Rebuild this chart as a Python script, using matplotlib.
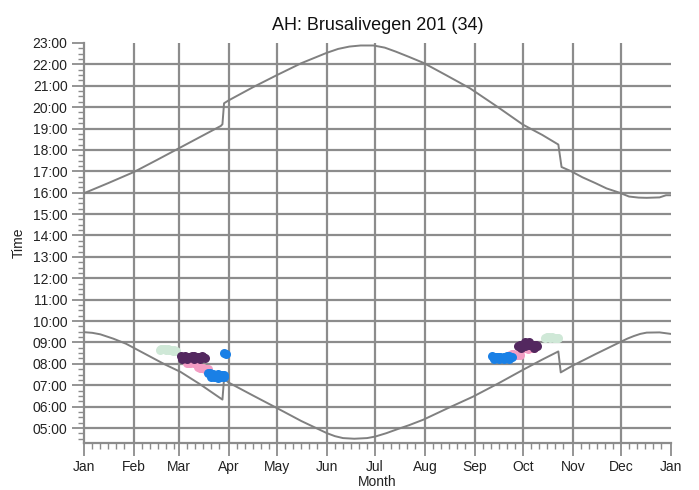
"""Plot sunrise/sunset times with observation times for one site."""

import matplotlib
matplotlib.use('Agg')  # Non-interactive backend
import matplotlib.pyplot as plt
from matplotlib.ticker import FixedLocator, FuncFormatter, MultipleLocator

plt.rcParams['font.family'] = ['Liberation Sans', 'DejaVu Sans']

TITLE = "AH: Brusalivegen 201 (34)"

MONTH_STARTS = [0, 31, 59, 90, 120, 151, 181, 212, 243, 273, 304, 334, 365]
MONTH_LABELS = ["Jan", "Feb", "Mar", "Apr", "May", "Jun", "Jul",
                "Aug", "Sep", "Oct", "Nov", "Dec", "Jan"]

# Sunset (day of year, hour)
sunset_days = [0, 15, 31, 45, 59, 72, 85, 86, 87, 90, 105, 120, 135, 151, 158,
               165, 172, 180, 187, 194, 202, 211, 225, 240, 257, 273, 285, 295,
               297, 303, 310, 318, 325, 333, 339, 345, 350, 358, 362, 365]
sunset_hours = [15.98, 16.45, 16.97, 17.52, 18.08, 18.60, 19.12, 19.20, 20.18,
                20.32, 20.93, 21.50, 22.05, 22.54, 22.72, 22.83, 22.88, 22.88,
                22.78, 22.59, 22.35, 22.07, 21.50, 20.88, 20.02, 19.18, 18.70,
                18.25, 17.20, 17.00, 16.72, 16.45, 16.20, 16.00, 15.82, 15.77,
                15.76, 15.78, 15.88, 15.88]

# Sunrise (day of year, hour)
sunrise_days = [0, 5, 10, 18, 26, 39, 50, 60, 72, 85, 86, 87, 90, 105, 120, 135,
                151, 156, 161, 168, 176, 181, 188, 195, 202, 211, 226, 242, 258,
                273, 285, 295, 296.5, 303, 318, 333, 338, 342, 346, 350, 358,
                362, 365]
sunrise_hours = [9.48, 9.45, 9.38, 9.18, 8.94, 8.42, 7.98, 7.62, 7.05, 6.38,
                 6.33, 7.30, 7.12, 6.52, 5.93, 5.33, 4.76, 4.62, 4.53, 4.50,
                 4.53, 4.60, 4.76, 4.95, 5.13, 5.39, 5.92, 6.47, 7.10, 7.72,
                 8.20, 8.58, 7.60, 7.88, 8.45, 9.00, 9.18, 9.30, 9.40, 9.46,
                 9.47, 9.43, 9.40]

# Observations, grouped by category
green_days = [47, 48, 49, 50, 51, 52, 53, 54, 55, 56, 57,
              287, 288, 289, 290, 291, 292, 293, 294, 295]
green_hours = [8.64, 8.68, 8.70, 8.68, 8.66, 8.68, 8.64, 8.66, 8.62, 8.64, 8.62,
               9.20, 9.24, 9.26, 9.22, 9.24, 9.20, 9.23, 9.22, 9.20]

purple_days = [60, 61, 62, 63, 64, 65, 66, 67, 68, 69, 70, 71, 72, 73, 74, 75,
               61, 64, 68, 72,
               270, 271, 272, 273, 274, 275, 276, 277, 278, 279, 280, 281, 282,
               274, 277, 272, 280]
purple_hours = [8.36, 8.34, 8.33, 8.35, 8.32, 8.30, 8.33, 8.35, 8.36, 8.32,
                8.30, 8.34, 8.33, 8.36, 8.30, 8.28,
                8.22, 8.22, 8.22, 8.22,
                8.85, 8.88, 8.90, 8.86, 8.84, 8.88, 8.86, 8.90, 8.86, 8.84,
                8.88, 8.86, 8.84, 9.00, 9.00, 8.76, 8.76]

pink_days = [64, 65, 66, 67, 68, 69, 70, 71, 72, 73, 74, 75, 76, 77,
             265, 266, 267, 268, 269, 270, 271, 272, 274, 276, 278, 280]
pink_hours = [8.06, 8.04, 8.05, 8.07, 8.04, 8.06, 8.03, 7.84, 7.82, 7.80, 7.80,
              7.78, 7.76, 7.74,
              8.42, 8.44, 8.45, 8.42, 8.40, 8.44, 8.42, 8.70, 8.72, 8.70, 8.72,
              8.72]

blue_days = [77, 78, 79, 80, 81, 82, 83, 84, 85, 86, 87, 79, 81, 83, 85, 87,
             87, 88,
             254, 255, 256, 257, 258, 259, 260, 261, 262, 263, 264, 265, 266,
             255, 258, 261, 264]
blue_hours = [7.58, 7.55, 7.50, 7.52, 7.46, 7.48, 7.52, 7.50, 7.45, 7.48, 7.50,
              7.38, 7.40, 7.36, 7.38, 7.40,
              8.50, 8.46,
              8.36, 8.33, 8.30, 8.34, 8.33, 8.30, 8.28, 8.32, 8.32, 8.36, 8.36,
              8.33, 8.30, 8.22, 8.24, 8.22, 8.24]

GRID = '#8c8c8c'
CURVE = '#808080'


def minor_day_ticks():
    """Small ticks on day 6, 11, 16, 21 and 26 of every month."""
    ticks = []
    for start, end in zip(MONTH_STARTS[:-1], MONTH_STARTS[1:]):
        ticks += [start + d for d in (5, 10, 15, 20, 25) if start + d < end]
    return ticks


def main():
    fig = plt.figure(figsize=(6.99, 4.90), dpi=100)
    ax = fig.add_axes([0.1205, 0.0959, 0.8392, 0.8165])

    # Day-length curves
    ax.plot(sunset_days, sunset_hours, color=CURVE, linewidth=1.4, zorder=3)
    ax.plot(sunrise_days, sunrise_hours, color=CURVE, linewidth=1.4, zorder=3)

    # Observations
    groups = [
        (green_days, green_hours, '#cfe8d7'),
        (pink_days, pink_hours, '#f39cc3'),
        (purple_days, purple_hours, '#53285f'),
        (blue_days, blue_hours, '#1a80e6'),
    ]
    for days, hours, color in groups:
        ax.plot(days, hours, linestyle='none', marker='o', markersize=6.5,
                color=color, markeredgewidth=0, zorder=4)

    ax.set_xlim(0, 365)
    ax.set_ylim(4.3, 23)

    ax.xaxis.set_major_locator(FixedLocator(MONTH_STARTS))
    ax.set_xticklabels(MONTH_LABELS)
    ax.xaxis.set_minor_locator(FixedLocator(minor_day_ticks()))

    ax.yaxis.set_major_locator(FixedLocator(range(5, 24)))
    ax.yaxis.set_major_formatter(FuncFormatter(lambda v, _: f"{int(round(v)):02d}:00"))
    ax.yaxis.set_minor_locator(MultipleLocator(0.25))

    ax.tick_params(which='major', length=9, width=1.3, color=GRID,
                   labelsize=10, labelcolor='#222222', pad=3)
    ax.tick_params(which='minor', length=4, width=1.0, color=GRID)

    # Grid lines at month starts and full hours (none on the top edge)
    for d in MONTH_STARTS[1:-1]:
        ax.axvline(d, color=GRID, linewidth=1.6, zorder=1)
    for h in range(5, 23):
        ax.axhline(h, color=GRID, linewidth=1.6, zorder=1)

    for side in ('top', 'right'):
        ax.spines[side].set_visible(False)
    for side in ('left', 'bottom'):
        ax.spines[side].set_color(GRID)
        ax.spines[side].set_linewidth(1.6)

    ax.set_xlabel('Month', fontsize=10, color='#222222', labelpad=1)
    ax.set_ylabel('Time', fontsize=10, color='#222222', labelpad=5)
    ax.set_title(TITLE, fontsize=13, color='#111111', pad=9)

    fig.savefig('out.png', dpi=100)
    plt.close(fig)


if __name__ == "__main__":
    main()
